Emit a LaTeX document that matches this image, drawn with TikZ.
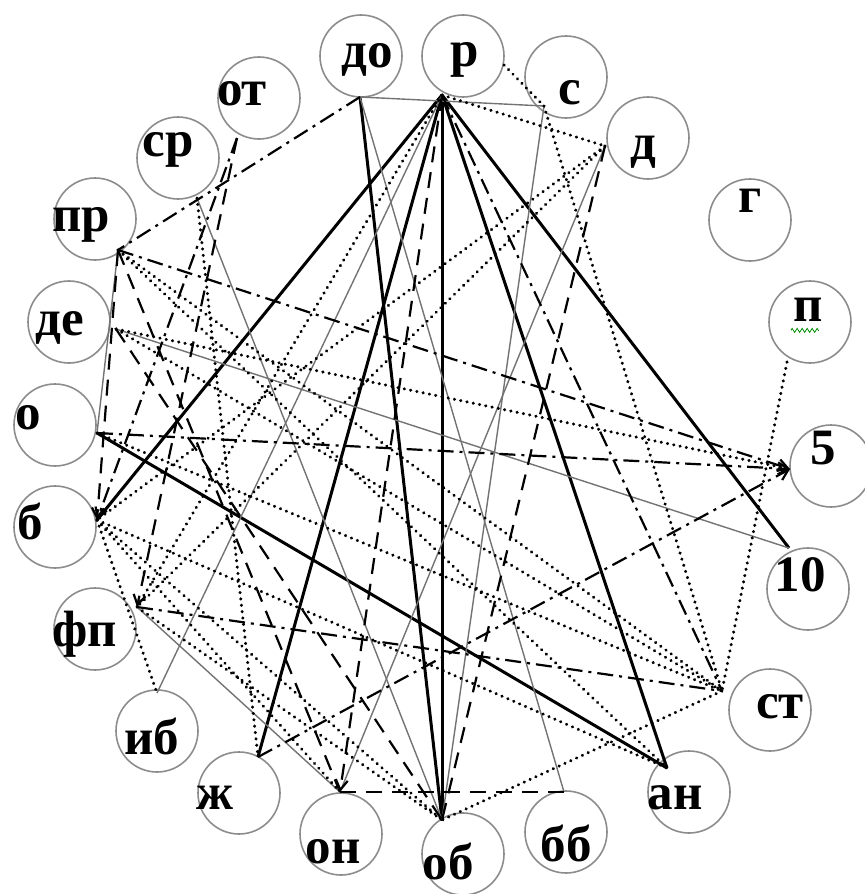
\documentclass[tikz,border=0pt]{standalone}
\usepackage{fontspec}
\setmainfont{Liberation Serif}
\usetikzlibrary{arrows.meta, decorations.pathmorphing}

\begin{document}
\begin{tikzpicture}[
    x=0.5pt, y=-0.5pt,
    % Kreise der Knoten
    vertex/.style={circle, draw=black!45, line width=0.8pt, minimum size=41pt, inner sep=0pt},
    % Beschriftung
    tag/.style={anchor=base, inner sep=0pt, font=\bfseries\fontsize{25.5}{25.5}\selectfont},
    % Linienarten
    heavy/.style={line width=1.5pt, black},
    plain/.style={line width=0.7pt, black!55},
    dots/.style={line width=1.6pt, dash pattern=on 0.1pt off 3.1pt, line cap=round},
    dashdot/.style={line width=1.1pt, dash pattern=on 8pt off 3pt on 1.5pt off 3pt},
    longdash/.style={line width=1.1pt, dash pattern=on 8pt off 5pt},
    tip/.style={-{Straight Barb[length=5pt, width=6pt]}}
]
    \useasboundingbox (0,0) rectangle (864,894);

    % --- Kreise ---
    \node[vertex] (do) at (361,56) {};
    \node[vertex] (r)  at (463,56) {};
    \node[vertex] (s)  at (566,77) {};
    \node[vertex] (d)  at (648,138) {};
    \node[vertex] (g)  at (750,220) {};
    \node[vertex] (p)  at (810,322) {};
    \node[vertex] (five) at (831,466) {};
    \node[vertex] (ten)  at (808,589) {};
    \node[vertex] (st) at (770,710) {};
    \node[vertex] (an) at (689,792) {};
    \node[vertex] (bb) at (566,832) {};
    \node[vertex] (ob) at (463,854) {};
    \node[vertex] (on) at (341,834) {};
    \node[vertex] (zh) at (239,793) {};
    \node[vertex] (ib) at (157,731) {};
    \node[vertex] (fp) at (95,629) {};
    \node[vertex] (b)  at (55,527) {};
    \node[vertex] (o)  at (55,425) {};
    \node[vertex] (de) at (69,322) {};
    \node[vertex] (pr) at (95,219) {};
    \node[vertex] (sr) at (178,158) {};
    \node[vertex] (ot) at (259,98) {};

    % --- Texte ---
    \node[tag] (do-t) at (367,67) {до};
    \node[tag] (r-t)  at (465,66) {р};
    \node[tag] (s-t)  at (570,104) {с};
    \node[tag] (d-t)  at (643,159) {д};
    \node[tag] (g-t)  at (750,212) {г};
    \node[tag] (p-t)  at (808,321) {п};
    \node[tag] (five-t) at (823,464) {5};
    \node[tag] (ten-t)  at (800,591) {10};
    \node[tag] (st-t) at (780,718) {ст};
    \node[tag] (an-t) at (675,809) {ан};
    \node[tag] (bb-t) at (566,861) {бб};
    \node[tag] (ob-t) at (448,879) {об};
    \node[tag] (on-t) at (333,863) {он};
    \node[tag] (zh-t) at (215,809) {ж};
    \node[tag] (ib-t) at (152,754) {иб};
    \node[tag] (fp-t) at (85,646) {фп};
    \node[tag] (b-t)  at (30,539) {б};
    \node[tag] (o-t)  at (28,429) {о};
    \node[tag] (de-t) at (60,335) {де};
    \node[tag] (pr-t) at (81,231) {пр};
    \node[tag] (sr-t) at (168,156) {ср};
    \node[tag] (ot-t) at (242,105) {от};

    % Wellenlinie unter "п"
    \draw[green!55!black, line width=0.4pt, decorate,
          decoration={zigzag, amplitude=1pt, segment length=2.5pt}]
        (p-t.south west) ++(-2,9) -- ++(28,0);

    % --- Anschlusspunkte ---
    \coordinate (do-a) at (360,97);
    \coordinate (r-a)  at (442,95);
    \coordinate (r-b)  at (504,65);
    \coordinate (s-a)  at (544,106);
    \coordinate (d-a)  at (605,146);
    \coordinate (p-a)  at (787,362);
    \coordinate (five-a) at (790,469);
    \coordinate (ten-a)  at (789,548);
    \coordinate (st-a) at (722,691);
    \coordinate (an-a) at (667,768);
    \coordinate (bb-a) at (564,792);
    \coordinate (ob-a) at (442,820);
    \coordinate (on-a) at (340,792);
    \coordinate (zh-a) at (258,757);
    \coordinate (ib-a) at (157,693);
    \coordinate (fp-a) at (137,607);
    \coordinate (b-a)  at (97,520);
    \coordinate (o-a)  at (97,433);
    \coordinate (de-a) at (116,329);
    \coordinate (pr-a) at (118,250);
    \coordinate (sr-a) at (197,198);
    \coordinate (ot-a) at (237,138);

    % --- dicke Linien ---
    \foreach \u/\v in {r-a/b-a, r-a/zh-a, r-a/ob-a, r-a/an-a, r-a/ten-a, do-a/ob-a, o-a/an-a}
        \draw[heavy] (\u) -- (\v);

    % --- duenne graue Linien ---
    \foreach \u/\v in {do-a/s-a, do-a/bb-a, s-a/ob-a, de-a/ten-a, pr-a/o-a, sr-a/ob-a, fp-a/on-a, ib-a/r-a, on-a/d-a}
        \draw[plain] (\u) -- (\v);

    % --- gepunktete Linien ---
    \foreach \u/\v in {r-a/d-a, r-b/s-a, r-a/fp-a, s-a/st-a, pr-a/st-a, pr-a/an-a, o-a/st-a, p-a/st-a,
                       st-a/ob-a, sr-a/zh-a, b-a/ib-a, d-a/fp-a, d-a/b-a, b-a/on-a, b-a/ob-a,
                       de-a/five-a, fp-a/ob-a, b-a/an-a, de-a/st-a}
        \draw[dots] (\u) -- (\v);

    % --- Strich-Punkt ---
    \foreach \u/\v in {do-a/pr-a, r-a/st-a, fp-a/st-a}
        \draw[dashdot] (\u) -- (\v);
    \foreach \u/\v in {pr-a/five-a, o-a/five-a, zh-a/five-a, ot-a/b-a}
        \draw[dashdot, tip] (\u) -- (\v);

    % --- gestrichelt ---
    \foreach \u/\v in {on-a/bb-a, d-a/ob-a, pr-a/on-a, de-a/ob-a}
        \draw[longdash] (\u) -- (\v);
    \foreach \u/\v in {pr-a/b-a, ot-a/fp-a, r-a/on-a}
        \draw[longdash, tip] (\u) -- (\v);

\end{tikzpicture}
\end{document}
